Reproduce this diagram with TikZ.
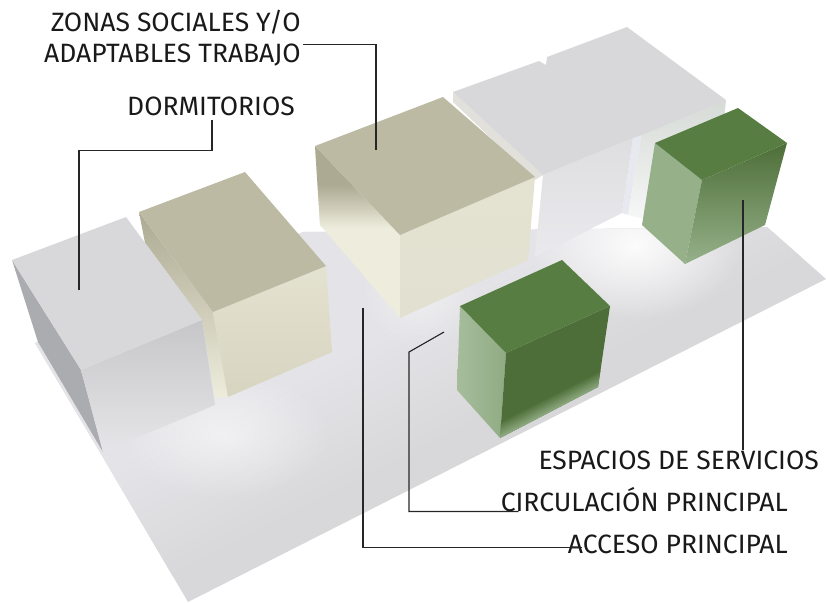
\documentclass[tikz,border=0pt]{standalone}
\usepackage{xcolor}
\usepackage{fontspec}
\setmainfont{Fira Sans}
\usetikzlibrary{fadings}

\definecolor{floorgray}{RGB}{216,216,218}
\definecolor{floorlight}{RGB}{228,228,232}
\definecolor{cubegray}{RGB}{216,216,219}
\definecolor{sidegray}{RGB}{170,172,175}
\definecolor{cubetan}{RGB}{189,186,163}
\definecolor{sidetan}{RGB}{172,170,146}
\definecolor{palecream}{RGB}{238,236,220}
\definecolor{creamtop}{RGB}{228,226,208}
\definecolor{creamlow}{RGB}{215,212,192}
\definecolor{topgreen}{RGB}{88,125,66}
\definecolor{darkgreen}{RGB}{77,110,56}
\definecolor{palegreen}{RGB}{150,177,138}
\definecolor{gapgray}{RGB}{232,233,240}
\definecolor{facehigh}{RGB}{222,222,224}
\definecolor{facemid}{RGB}{211,211,212}
\definecolor{facelow}{RGB}{234,234,238}
\definecolor{facegreen}{RGB}{214,219,214}

\tikzfading[name=glowfade, inner color=transparent!0, outer color=transparent!100]

\tikzset{
  lbl/.style={inner sep=0pt, anchor=base east, text=black!90, font=\fontsize{26.5}{28}\selectfont},
  leader/.style={draw=black!85, line width=1.1pt},
  glow/.style={white, path fading=glowfade}
}

\begin{document}
\begin{tikzpicture}[x=1pt,y=-1pt]
\useasboundingbox (0,0) rectangle (826,602);

% floor slab
\begin{scope}
\clip (35,343)--(303,232)--(767,227)--(826,279)--(188,602)--(101,454)--cycle;
\fill[floorgray] (0,200) rectangle (826,602);
\begin{scope}[transform canvas={shift={(430,300)},rotate=27}]
\fill[floorlight] (-600,-200) rectangle (600,10);
\shade[top color=floorlight, bottom color=floorgray] (-600,10) rectangle (600,130);
\end{scope}
\fill[glow, opacity=.5] (120,370) rectangle (330,500);
\fill[glow, opacity=.9] (530,170) rectangle (740,320);
\fill[glow, opacity=.4] (360,230) rectangle (480,350);
\end{scope}

% rear gray blocks
\fill[palecream!40!cubegray] (453,92)--(543,175)--(535,180)--(453,102)--cycle;
\fill[gapgray] (633,138)--(642,132)--(628,215)--(622,213)--cycle;
\shade[top color=facegreen, bottom color=white!85!cubegray] (642,132)--(726,100)--(724,120)--(690,230)--(628,215)--cycle;
\shade[top color=facehigh, middle color=facemid, bottom color=facelow] (543,175)--(633,138)--(622,213)--(535,257)--cycle;
\fill[cubegray] (453,92)--(539,61)--(546,65)--(547,57)--(627,27)--(726,100)--(642,135)--(633,138)--(543,175)--cycle;

% tan block back
\begin{scope}
\clip (315,146)--(400,235)--(400,318)--(320,225)--cycle;
\fill[palecream] (300,140) rectangle (410,330);
\fill[sidetan] (300,140) rectangle (410,185);
\shade[top color=sidetan, bottom color=palecream] (300,185) rectangle (410,228);
\end{scope}
\shade[top color=creamtop, bottom color=palecream!95!black] (400,235)--(535,177)--(528,260)--(400,318)--cycle;
\fill[cubetan] (315,146)--(443,97)--(535,177)--(400,235)--cycle;

% tan block front
\shade[top color=sidetan, middle color=palecream, bottom color=palecream] (139,212)--(213,312)--(228,397)--(215,398)--(202,320)--(145,243)--cycle;
\shade[top color=creamtop, bottom color=creamlow] (213,312)--(326,266)--(332,352)--(228,397)--cycle;
\fill[cubetan] (139,212)--(245,172)--(326,266)--(213,312)--cycle;

% gray block front
\fill[sidegray] (12,260)--(81,370)--(103,452)--(38,342)--cycle;
\shade[top color=cubegray!92!black, bottom color=cubegray!65!white] (81,370)--(202,320)--(215,405)--(103,452)--cycle;
\fill[cubegray] (12,260)--(126,217)--(202,320)--(81,370)--cycle;

% green block back
\fill[palegreen] (655,143)--(702,180)--(685,264)--(642,225)--cycle;
\shade[shading angle=-32, top color=darkgreen, middle color=darkgreen!55!palegreen, bottom color=palegreen] (702,180)--(787,143)--(765,225)--(685,264)--cycle;
\fill[topgreen] (655,143)--(738,108)--(787,143)--(702,180)--cycle;

% green block front
\shade[left color=palegreen!85!white, right color=palegreen!92!darkgreen] (460,306)--(506,353)--(500,438)--(457,390)--cycle;
\begin{scope}
\clip (506,353)--(610,306)--(598,387)--(500,438)--cycle;
\fill[darkgreen] (490,300) rectangle (620,440);
\begin{scope}[transform canvas={shift={(549,412)},rotate=27}]
\shade[top color=darkgreen, bottom color=palegreen] (-80,-14) rectangle (80,2);
\end{scope}
\end{scope}
\fill[topgreen] (460,306)--(562,260)--(610,306)--(506,353)--cycle;

% labels
\node[lbl] (zonasA) at (301,32) {ZONAS SOCIALES Y/O};
\node[lbl] (zonasB) at (301,63) {ADAPTABLES TRABAJO};
\node[lbl] (dorm) at (295,115) {DORMITORIOS};
\node[lbl] (esp) at (819,469) {ESPACIOS DE SERVICIOS};
\node[lbl] (circ) at (788,511) {CIRCULACIÓN PRINCIPAL};
\node[lbl] (acc) at (788,553) {ACCESO PRINCIPAL};

% leader ends
\coordinate (zonasEnd) at (376,150);
\coordinate (dormEnd) at (79,290);
\coordinate (espEnd) at (743,200);
\coordinate (circEnd) at (444,332);
\coordinate (accEnd) at (363,308);

\draw[leader] ([xshift=2pt]zonasB.north east) -| (zonasEnd);
\draw[leader] ([shift={(-83,4)}]dorm.south east) -- ++(0,31) -| (dormEnd);
\draw[leader] (espEnd) -- (espEnd |- esp.north);
\draw[leader] (circEnd) -- (409,352) |- ([xshift=18pt]circ.south west);
\draw[leader] (accEnd) |- ([xshift=14pt,yshift=-4pt]acc.west);
\end{tikzpicture}
\end{document}
